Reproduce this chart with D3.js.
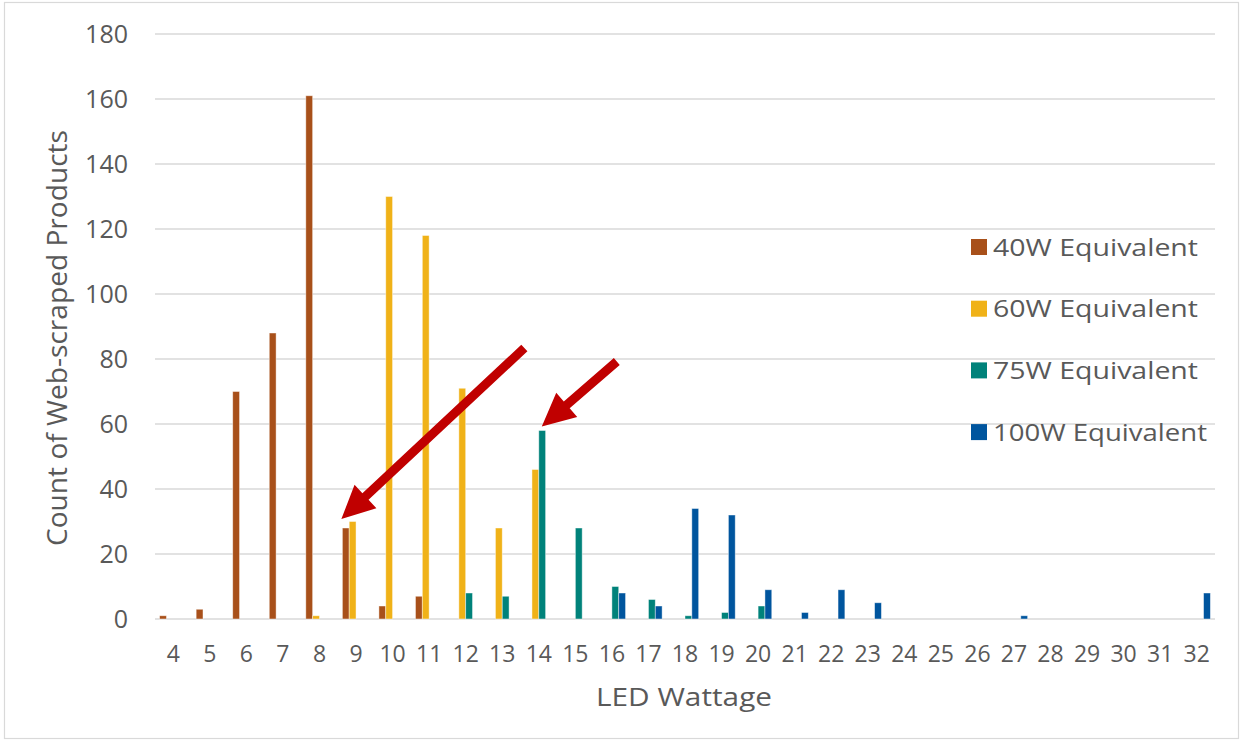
<!DOCTYPE html>
<html>
<head>
<meta charset="utf-8">
<script src="https://cdn.jsdelivr.net/npm/d3@7"></script>
<style>
  html, body { margin: 0; padding: 0; background: #fff; }
  svg { display: block; }
  text { font-family: "Open Sans", "DejaVu Sans", sans-serif; fill: #595959; }
</style>
</head>
<body>
<svg id="chart" width="1243" height="742"></svg>
<script>
// LED wattage categories (x axis)
const wattages = ["4","5","6","7","8","9","10","11","12","13","14","15","16","17","18","19","20","21","22","23","24","25","26","27","28","29","30","31","32"];

// Product counts per wattage for each incandescent-equivalent class
const equiv40  = [1,3,70,88,161,28,4,7,0,0,0,0,0,0,0,0,0,0,0,0,0,0,0,0,0,0,0,0,0];
const equiv60  = [0,0,0,0,1,30,130,118,71,28,46,0,0,0,0,0,0,0,0,0,0,0,0,0,0,0,0,0,0];
const equiv75  = [0,0,0,0,0,0,0,0,8,7,58,28,10,6,1,2,4,0,0,0,0,0,0,0,0,0,0,0,0];
const equiv100 = [0,0,0,0,0,0,0,0,0,0,0,0,8,4,34,32,9,2,9,5,0,0,0,1,0,0,0,0,8];

const seriesNames = ["40W Equivalent","60W Equivalent","75W Equivalent","100W Equivalent"];
const seriesColors = ["#A8501A","#F0B218","#00827A","#00559E"];
const yTicks = [0,20,40,60,80,100,120,140,160,180];

const series = [equiv40, equiv60, equiv75, equiv100].map((vals, i) => ({
  name: seriesNames[i], color: seriesColors[i], values: vals
}));

const svg = d3.select("#chart");
const W = 1243, H = 742;

// outer chart frame
svg.append("rect")
  .attr("x", 4.5).attr("y", 2.5).attr("width", W - 9).attr("height", H - 6)
  .attr("fill", "none").attr("stroke", "#d9d9d9").attr("stroke-width", 1.2);

const plot = { left: 155, right: 1215, top: 34, bottom: 619 };

const x = d3.scaleBand().domain(wattages).range([plot.left, plot.right]).padding(0);
const y = d3.scaleLinear().domain([0, 180]).range([plot.bottom, plot.top]);

const step = x.bandwidth();
const groupPad = step * 0.126;
const xs = d3.scaleBand().domain(seriesNames).range([groupPad, step - groupPad]).padding(0);

// horizontal gridlines
svg.append("g").selectAll("line").data(yTicks).join("line")
  .attr("x1", plot.left).attr("x2", plot.right)
  .attr("y1", d => y(d)).attr("y2", d => y(d))
  .attr("stroke", "#d9d9d9").attr("stroke-width", 1.6);

// y tick labels
const yAxis = d3.axisLeft(y).tickValues(yTicks).tickSize(0).tickPadding(0);
const gy = svg.append("g").attr("transform", `translate(128,0)`).call(yAxis);
gy.select(".domain").remove();
gy.selectAll("text")
  .attr("font-family", "'Open Sans', 'DejaVu Sans', sans-serif")
  .attr("font-size", 25).attr("fill", "#595959").attr("dy", "0.35em");

// x tick labels
const xAxis = d3.axisBottom(x).tickSize(0).tickPadding(0);
const gx = svg.append("g").attr("transform", `translate(0,646)`).call(xAxis);
gx.select(".domain").remove();
gx.selectAll("text")
  .attr("font-family", "'Open Sans', 'DejaVu Sans', sans-serif")
  .attr("font-size", 23).attr("fill", "#595959").attr("dy", "0.7em");

// bars
const gBars = svg.append("g");
series.forEach(s => {
  gBars.append("g").selectAll("rect")
    .data(s.values.map((v, i) => ({ cat: wattages[i], v })).filter(d => d.v > 0))
    .join("rect")
    .attr("x", d => x(d.cat) + xs(s.name))
    .attr("y", d => y(d.v))
    .attr("width", xs.bandwidth())
    .attr("height", d => y(0) - y(d.v))
    .attr("fill", s.color)
    .attr("stroke", "#ffffff").attr("stroke-opacity", 0.55).attr("stroke-width", 0.8);
});

// axis titles
svg.append("text")
  .attr("x", 684).attr("y", 706)
  .attr("text-anchor", "middle")
  .attr("font-size", 26)
  .attr("textLength", 176).attr("lengthAdjust", "spacingAndGlyphs")
  .text("LED Wattage");

svg.append("text")
  .attr("transform", "translate(67,338) rotate(-90)")
  .attr("text-anchor", "middle")
  .attr("font-size", 27)
  .attr("textLength", 416).attr("lengthAdjust", "spacingAndGlyphs")
  .text("Count of Web-scraped Products");

// legend
const legend = svg.append("g").attr("transform", "translate(971,247)");
series.forEach((s, i) => {
  const row = legend.append("g").attr("transform", `translate(0,${i * 61.7})`);
  row.append("rect").attr("x", 0).attr("y", -8).attr("width", 16).attr("height", 16).attr("fill", s.color);
  row.append("text").attr("x", 22).attr("y", 0).attr("dy", "0.36em")
    .attr("font-size", 24)
    .attr("textLength", i === 3 ? 214 : 205).attr("lengthAdjust", "spacingAndGlyphs")
    .text(s.name);
});

// red callout arrows pointing at two highlighted bars
function arrow(tipX, tipY, tailX, tailY) {
  const dx = tipX - tailX, dy = tipY - tailY;
  const len = Math.hypot(dx, dy);
  const ux = dx / len, uy = dy / len;
  const px = -uy, py = ux;
  const shaftHalf = 4.5, headHalf = 16, headLen = 33;
  const bx = tipX - ux * headLen, by = tipY - uy * headLen;
  const pts = [
    [tailX + px * shaftHalf, tailY + py * shaftHalf],
    [bx + px * shaftHalf, by + py * shaftHalf],
    [bx + px * headHalf, by + py * headHalf],
    [tipX, tipY],
    [bx - px * headHalf, by - py * headHalf],
    [bx - px * shaftHalf, by - py * shaftHalf],
    [tailX - px * shaftHalf, tailY - py * shaftHalf]
  ];
  svg.append("path")
    .attr("d", d3.line()(pts) + "Z")
    .attr("fill", "#C00000");
}

const tip1x = x("9") + xs("40W Equivalent") - 1, tip1y = y(equiv40[5]) - 9;
arrow(tip1x, tip1y, tip1x + 183, tip1y - 171);
const tip2x = x("14") + xs("75W Equivalent") + 3, tip2y = y(equiv75[10]) - 4;
arrow(tip2x, tip2y, tip2x + 75, tip2y - 65);
</script>
</body>
</html>
